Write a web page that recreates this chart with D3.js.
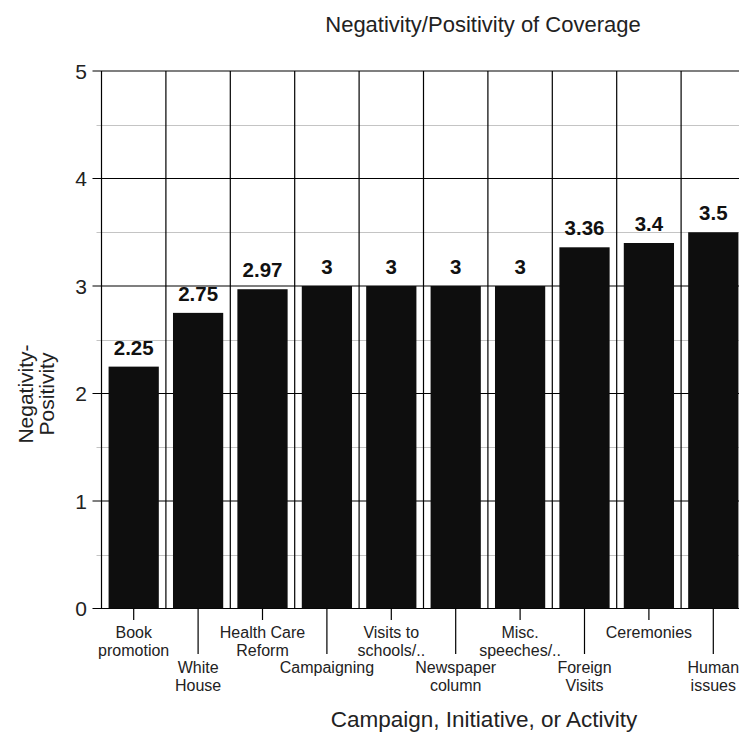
<!DOCTYPE html>
<html>
<head>
<meta charset="utf-8">
<script src="https://cdn.jsdelivr.net/npm/d3@7"></script>
<style>
  html, body { margin: 0; padding: 0; background: #fff; }
  svg { display: block; font-family: "Liberation Sans", Arial, sans-serif; }
</style>
</head>
<body>
<svg id="chart" width="739" height="732"></svg>
<script>
// Categories (two-line labels) and their average negativity/positivity score
const categories = [
  ["Book", "promotion"],
  ["White", "House"],
  ["Health Care", "Reform"],
  ["Campaigning"],
  ["Visits to", "schools/.."],
  ["Newspaper", "column"],
  ["Misc.", "speeches/.."],
  ["Foreign", "Visits"],
  ["Ceremonies"],
  ["Human", "issues"]
];
const values = [2.25, 2.75, 2.97, 3, 3, 3, 3, 3.36, 3.4, 3.5];
const yTicks = [0, 1, 2, 3, 4, 5];
const yMinorTicks = [0.5, 1.5, 2.5, 3.5, 4.5];

const svg = d3.select("#chart");
const margin = { left: 101.5, top: 71, bottom: 608.5, right: 745.5 };

const x = d3.scaleBand()
  .domain(d3.range(categories.length))
  .range([margin.left, margin.right])
  .paddingInner(0.22)
  .paddingOuter(0.11);
const step = x.step();

const y = d3.scaleLinear().domain([0, 5]).range([margin.bottom, margin.top]);

// Minor horizontal grid (light gray)
svg.append("g").selectAll("line").data(yMinorTicks).join("line")
  .attr("x1", margin.left - 5).attr("x2", margin.right)
  .attr("y1", d => Math.round(y(d)) + 0.5).attr("y2", d => Math.round(y(d)) + 0.5)
  .attr("stroke", "#c4c4c4").attr("stroke-width", 1);

// Major horizontal grid (black) with ticks extending left of the axis
svg.append("g").selectAll("line").data(yTicks).join("line")
  .attr("x1", margin.left - 9).attr("x2", margin.right)
  .attr("y1", d => y(d)).attr("y2", d => y(d))
  .attr("stroke", "#000").attr("stroke-width", 1.2);

// Vertical lines at category boundaries
const bounds = d3.range(categories.length + 1).map(i => margin.left + i * step);
svg.append("g").selectAll("line").data(bounds).join("line")
  .attr("x1", d => d).attr("x2", d => d)
  .attr("y1", margin.top).attr("y2", margin.bottom)
  .attr("stroke", "#000").attr("stroke-width", 1.2);

// Bars
svg.append("g").selectAll("rect").data(values).join("rect")
  .attr("x", (d, i) => x(i))
  .attr("width", x.bandwidth())
  .attr("y", d => y(d))
  .attr("height", d => y(0) - y(d))
  .attr("fill", "#0e0e0e");

// Value labels
svg.append("g").selectAll("text").data(values).join("text")
  .attr("x", (d, i) => x(i) + x.bandwidth() / 2)
  .attr("y", d => y(d) - 12)
  .attr("text-anchor", "middle")
  .attr("font-size", 20.5)
  .attr("font-weight", "bold")
  .attr("fill", "#111")
  .text(d => d3.format("~g")(d));

// Y axis tick labels
svg.append("g").selectAll("text").data(yTicks).join("text")
  .attr("x", 87)
  .attr("y", d => y(d) + 7.5)
  .attr("text-anchor", "end")
  .attr("font-size", 21)
  .attr("fill", "#222")
  .text(d => d);

// X axis ticks (alternating short/long) and labels
const xg = svg.append("g");
categories.forEach((lines, i) => {
  const cx = x(i) + x.bandwidth() / 2;
  const row = i % 2;
  const tickEnd = row === 0 ? 620 : 654;
  xg.append("line")
    .attr("x1", cx).attr("x2", cx)
    .attr("y1", margin.bottom).attr("y2", tickEnd)
    .attr("stroke", "#000").attr("stroke-width", 1.2);
  const baseY = row === 0 ? 638 : 673;
  lines.forEach((t, j) => {
    xg.append("text")
      .attr("x", cx)
      .attr("y", baseY + j * 17.5)
      .attr("text-anchor", "middle")
      .attr("font-size", 16)
      .attr("fill", "#222")
      .text(t);
  });
});

// Title
svg.append("text")
  .attr("x", 483).attr("y", 32)
  .attr("text-anchor", "middle")
  .attr("font-size", 22)
  .attr("fill", "#222")
  .text("Negativity/Positivity of Coverage");

// X axis title
svg.append("text")
  .attr("x", 484).attr("y", 727)
  .attr("text-anchor", "middle")
  .attr("font-size", 22.5)
  .attr("fill", "#222")
  .text("Campaign, Initiative, or Activity");

// Y axis title (two lines, rotated)
const yt = svg.append("text")
  .attr("transform", "translate(0,394) rotate(-90)")
  .attr("text-anchor", "middle")
  .attr("font-size", 21)
  .attr("fill", "#222");
yt.append("tspan").attr("x", 0).attr("y", 33).text("Negativity-");
yt.append("tspan").attr("x", 0).attr("y", 54).text("Positivity");
</script>
</body>
</html>
